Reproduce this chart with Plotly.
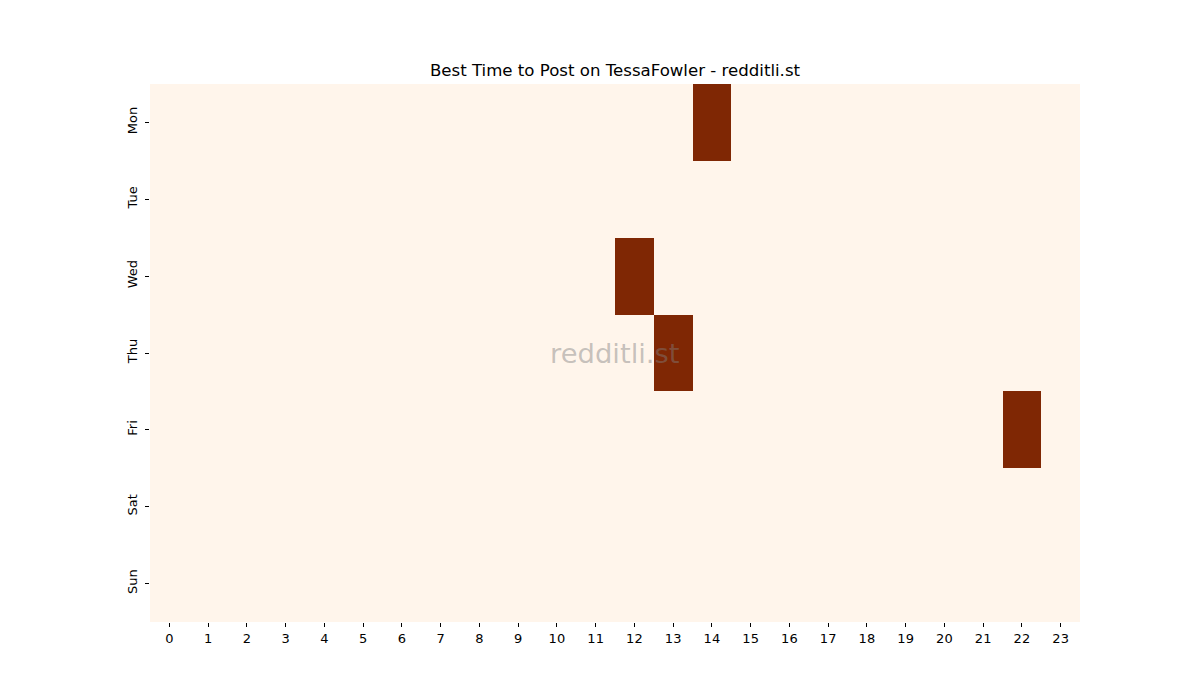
import plotly.graph_objects as go

days = ['Mon', 'Tue', 'Wed', 'Thu', 'Fri', 'Sat', 'Sun']
hours = list(range(24))

# best posting slots (day, hour) -> 1, everything else 0
best_slots = [('Mon', 14), ('Wed', 12), ('Thu', 13), ('Fri', 22)]

z = [[0] * len(hours) for _ in days]
for day, hour in best_slots:
    z[days.index(day)][hour] = 1

fig = go.Figure(
    go.Heatmap(
        z=z,
        x=hours,
        y=days,
        colorscale=[[0, '#fff5eb'], [1, '#7f2704']],
        showscale=False,
        xgap=0,
        ygap=0,
        hoverinfo='skip',
    )
)

fig.update_layout(
    width=1200,
    height=700,
    margin=dict(l=142, r=128, t=76, b=86),
    paper_bgcolor='white',
    plot_bgcolor='white',
    font=dict(family='DejaVu Sans', size=13, color='black'),
    title=dict(
        text='Best Time to Post on TessaFowler - redditli.st',
        xref='paper',
        x=0.5,
        xanchor='center',
        y=1 - 62 / 700,
        yanchor='middle',
        font=dict(size=16.6),
    ),
    annotations=[
        dict(
            text='redditli.st',
            xref='paper',
            yref='paper',
            x=0.5,
            y=0.5,
            showarrow=False,
            font=dict(size=27.4, color='rgba(128,128,128,0.45)'),
        )
    ],
)

fig.update_xaxes(
    tickmode='array',
    tickvals=hours,
    ticktext=[str(h) for h in hours],
    ticks='outside',
    ticklen=4,
    tickcolor='black',
    showgrid=False,
    zeroline=False,
    showline=False,
)
fig.update_yaxes(
    autorange='reversed',
    tickangle=-90,
    ticks='outside',
    ticklen=4,
    tickcolor='black',
    ticklabelstandoff=3,
    showgrid=False,
    zeroline=False,
    showline=False,
)

fig.write_html('out.html')
